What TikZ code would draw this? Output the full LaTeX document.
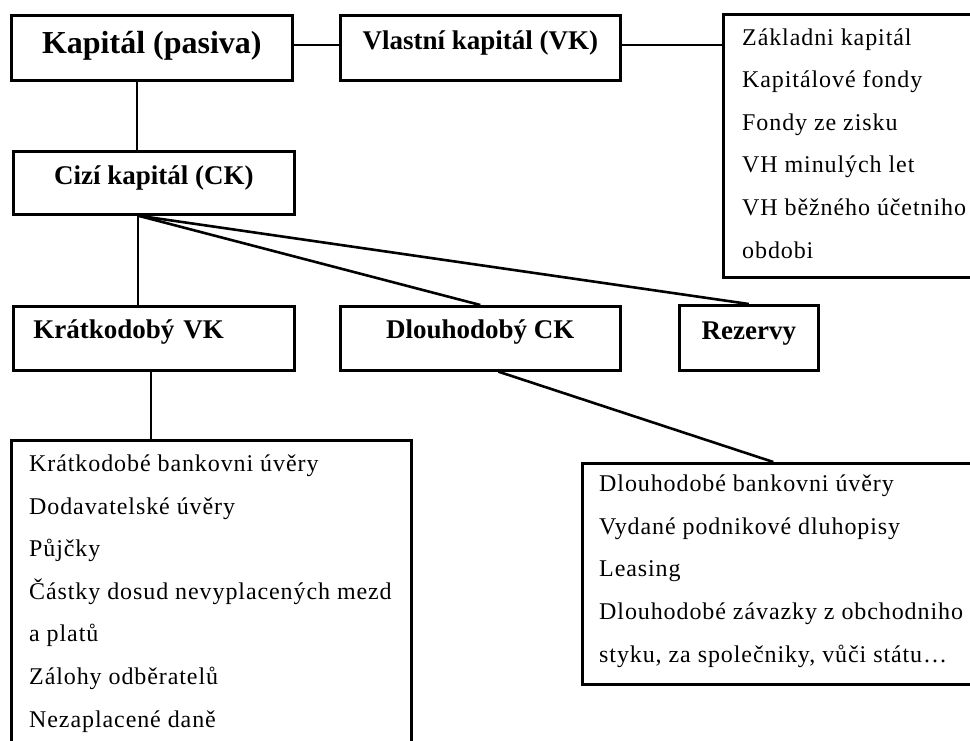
\documentclass[tikz,border=0pt]{standalone}
\usepackage{fontspec}
\setmainfont{Liberation Serif}
\newfontfamily\seznamfont[LetterSpace=3.8]{Liberation Serif}

\begin{document}
\begin{tikzpicture}[x=1pt, y=-1pt,
		krabice/.style={draw, line width=2.6pt, rectangle, anchor=north west, inner sep=0pt},
		hlavni/.style={krabice, font=\fontsize{27}{30}\selectfont\bfseries, text height=33pt, text depth=31pt},
		seznam/.style={align=left, anchor=base west, inner sep=0pt, font=\seznamfont\fontsize{24}{42.6}\selectfont},
		spoj/.style={line width=2.6pt}]
		\useasboundingbox (0,0) rectangle (970,740);
		\clip (0,0) rectangle (970,740);

		% boxes
		\node (kap) [hlavni, minimum width=281pt, font=\fontsize{32}{36}\selectfont\bfseries, text height=38pt, text depth=27pt] at (10,14) {Kapitál (pasiva)};
		\node (vk) [hlavni, minimum width=280pt, text height=34pt] at (339,14) {Vlastní kapitál (VK)};
		\node (vkbox) [krabice, minimum width=263pt, minimum height=263pt] at (722,13) {};
		\node (ck) [hlavni, minimum width=281pt, text depth=30pt] at (12,150) {Cizí kapitál (CK)};
		\node (kvk) [hlavni, text width=241pt, align=left, inner xsep=20pt, text height=32pt, text depth=32pt] at (12,305) {Krátkodobý VK};
		\node (dck) [hlavni, minimum width=280pt, text height=32pt, text depth=32pt] at (339,305) {Dlouhodobý CK};
		\node (rez) [hlavni, minimum width=139pt, text height=34pt] at (678,304) {Rezervy};
		\node (kbox) [krabice, minimum width=400pt, minimum height=311pt] at (10,439) {};
		\node (dbox) [krabice, minimum width=404pt, minimum height=221pt] at (581,462) {};

		% lists (base = last line)
		\node (vktext) [seznam] at ([shift={(20pt,-245pt)}]vkbox.north west)
			{Základni kapitál\\Kapitálové fondy\\Fondy ze zisku\\VH minulých let\\VH běžného účetniho\\obdobi};
		\node (ktext) [seznam] at ([shift={(19pt,-288pt)}]kbox.north west)
			{Krátkodobé bankovni úvěry\\Dodavatelské úvěry\\Půjčky\\Částky dosud nevyplacených mezd\\a platů\\Zálohy odběratelů\\Nezaplacené daně};
		\node (dtext) [seznam] at ([shift={(18pt,-200pt)}]dbox.north west)
			{Dlouhodobé bankovni úvěry\\Vydané podnikové dluhopisy\\Leasing\\Dlouhodobé závazky z obchodniho\\styku, za společniky, vůči státu…};

		\coordinate (ckpata) at ([xshift=-16pt]ck.south);

		\path[spoj]
		  ([yshift=3pt]kap.east) edge ([yshift=3pt]vk.west)
		  ([yshift=3pt]vk.east) edge ([yshift=3pt]vk.east -| vkbox.west)
		  ([xshift=-15pt]kap.south) edge ([xshift=-15pt]kap.south |- ck.north)
		  (ckpata) edge (ckpata |- kvk.north)
		      edge (dck.north)
		      edge (rez.north)
		  ([xshift=-3pt]kvk.south) edge ([xshift=-3pt]kvk.south |- kbox.north)
		  ([xshift=18pt]dck.south) edge ([xshift=-11pt]dbox.north);
\end{tikzpicture}
\end{document}
